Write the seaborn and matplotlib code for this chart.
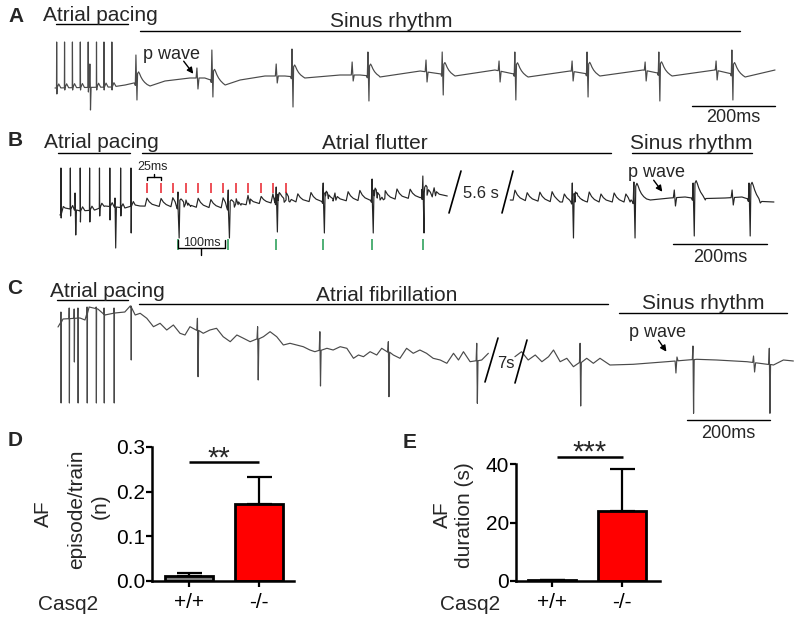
import numpy as np
import pandas as pd
import matplotlib
matplotlib.use("Agg")
import matplotlib.pyplot as plt
import seaborn as sns

sns.set_theme(style="ticks")
plt.rcParams["font.family"] = ["Liberation Sans", "DejaVu Sans"]

# ---------------- data: ECG traces (time in ms, amplitude in a.u.) ----------------
# Panel A: atrial pacing -> sinus rhythm
a_pace_t = [4, 23, 42, 61, 80, 100, 118, 137]
a_pace_top = [44, 44, 44, 44, 44, 44, 44, 44]
a_pace_bot = [-8, -4, -4, -4, -6, -4, -4, -4]
a_qrs_t = [84, 195, 378, 571, 754, 933, 1108, 1282, 1455, 1631]
a_qrs_top = [22, 31, 36, 37, 34, 34, 34, 34, 34, 36]
a_qrs_bot = [-24, -14, -11, -21, -15, -9, -14, -11, -15, -14]
a_qrs_j = [0, 12, 12, 12, 12, 12, 12, 12, 12, 12]
a_p_t = [342, 533, 716, 894, 1070, 1246, 1422, 1593]
a_p_hi = [18, 22, 24, 26, 25, 25, 24, 25]
a_p_lo = [-3, 3, 5, 4, 4, 5, 5, 6]
a_base_t = [0, 137, 169, 190, 229, 265, 325, 361, 410, 446, 506, 554, 602, 687,
            735, 783, 880, 964, 1060, 1140, 1241, 1313, 1417, 1487, 1590, 1663, 1735]
a_base_v = [-2, -1, 1, 3, 0, 5, 8, 8, 1, 6, 10, 10, 8, 11,
            11, 9, 15, 10, 16, 9, 15, 10, 16, 10, 16, 9, 16]

# Panel B: atrial pacing -> atrial flutter -> sinus rhythm
b_pace_t = [2, 22, 43, 63, 84, 106, 129, 151]
b_pace_top = [40, 40, 40, 40, 40, 40, 40, 40]
b_pace_bot = [-10, -8, -14, -14, -8, -12, -8, -25]
b_qrs_t = [32, 117, 251, 358, 460, 560, 664, 772, 1090, 1221, 1347, 1466]
b_qrs_top = [15, 10, 16, 18, 21, 25, 29, 32, 25, 26, 25, 25]
b_qrs_bot = [-27, -40, -30, -30, -24, -25, -25, -25, -30, -30, -28, -28]
b_qrs_j = [0, 0, 8, 8, 10, 10, 12, 12, 10, 18, 18, 18]
b_p_t = [1307, 1430]
b_p_hi = [18, 18]
b_p_lo = [2, 3]
b_fw_t = [185, 215, 240, 268, 294, 321, 347, 375, 400, 428, 453, 481, 506, 534,
          560, 585, 613, 638, 664, 692, 717, 745, 770, 796, 968, 994, 1021, 1047,
          1073, 1100, 1126, 1151, 1179, 1204]
b_fw_h = [8, 8, 9, 7, 9, 8, 10, 8, 9, 7, 9, 10, 8, 9,
          10, 8, 9, 10, 8, 9, 10, 9, 8, 9, 10, 8, 9, 10,
          8, 9, 10, 8, 9, 8]
b_base_t = [0, 11, 43, 74, 96, 138, 160, 170, 362, 404, 489, 681, 824, 958,
            1064, 1213, 1256, 1298, 1330, 1373, 1415, 1451, 1490, 1519]
b_base_v = [-7, 0, -3, -2, 2, 0, 3, 2, 0, 4, 6, 8, 12, 8,
            6, 6, 8, 10, 11, 8, 10, 11, 5, 6]
b_break = (830, 955)

# Panel C: atrial pacing -> atrial fibrillation -> sinus rhythm
c_pace_t = [7, 27, 39, 48, 70, 92, 111, 135, 176]
c_pace_top = [15, 19, 18, 19, 20, 20, 19, 19, 21]
c_pace_bot = [-76, -76, -35, -76, -76, -76, -76, -76, -33]
c_qrs_t = [336, 481, 631, 796, 1009, 1258, 1530, 1714]
c_qrs_top = [8.7, 0.3, -4.7, -14.7, -16.3, -16.3, -19, -21.3]
c_qrs_bot = [-49.7, -53, -59, -69.7, -76.3, -79, -86.3, -86.3]
c_qrs_j = [0, 0, 0, 0, 0, 0, 0, 0]
c_p_t = [1489, 1676]
c_p_first = [-46, -29]
c_p_second = [-30, -45]
c_wave_t = [0, 12, 53, 65, 75, 96, 113, 137, 161, 174, 186,
            198, 214, 230, 246, 262, 278, 294, 306, 318,
            350, 366, 382, 398, 415, 431, 447, 463,
            495, 511, 527, 543, 559, 575, 591, 607, 619,
            648, 663, 680, 696, 712, 724, 736, 752, 768, 780,
            808, 824, 840, 856, 872, 888, 904, 921, 937, 953, 965, 977, 993,
            1021, 1037,
            1101, 1117, 1133, 1150, 1166, 1182, 1194, 1210, 1226, 1242,
            1274, 1290, 1306,
            1330, 1386, 1467,
            1539, 1587, 1660,
            1724, 1748, 1772]
c_wave_v = [0, 8, 9, 7, 20, 18, 12, 14, 15, 21, 12,
            13.7, 8.7, 0.3, 3.7, -3, 2, -6.3, -8, 0.3,
            -6.3, -3, -1.3, -9.7, -14.7, -8, -11.3, -14.7,
            -9.7, -4.7, -9.7, -18, -16.3, -18, -19.7, -23, -24.7,
            -21.3, -23, -19.7, -21.3, -31.3, -28, -29.7, -24.7, -28, -21.3,
            -28, -31.3, -21.3, -26.3, -23, -26.3, -31.3, -33, -36.3, -26.3, -33, -24.7, -34.7,
            -33, -26.3,
            -29.7, -24.7, -33, -28, -34.7, -29.7, -23, -34.7, -31.3, -39.7,
            -31.3, -36.3, -31.3,
            -38, -37.3, -34.7,
            -32.3, -33, -34.7,
            -38, -33, -34]
c_break = (1040, 1098)

# ---------------- data: bar charts ----------------
genotypes = ["+/+", "-/-"]
d_mean = [0.012, 0.172]
d_sem = [0.006, 0.061]
e_mean = [0.2, 23.9]
e_sem = [0.1, 14.4]
bar_colors = ["#808080", "#ff0000"]

# shape of the J-wave hump after each QRS (offset in ms, fraction of J height)
J_SHAPE = [(4, 0.85), (6.5, 1.0), (9, 0.85), (12, 0.62), (16, 0.4), (21, 0.22), (27, 0.08)]


def build(bt, bv, pace=None, qrs=None, pw=None, fw=None, bump=4.0):
    bt = np.asarray(bt, float)
    bv = np.asarray(bv, float)

    def b(t):
        return float(np.interp(t, bt, bv))

    pts = list(zip(bt.tolist(), bv.tolist()))
    if pace is not None:
        for t, top, bot in zip(*pace):
            pts += [(t - 0.4, b(t)), (t, top), (t + 0.5, bot), (t + 1.0, b(t))]
            if bump:
                pts += [(t + 5, b(t + 5) + bump), (t + 10, b(t + 10))]
    if qrs is not None:
        for t, top, bot, j in zip(*qrs):
            if j > 0:
                pts += [(t - 3, b(t - 3)), (t - 1.5, b(t) - 2), (t, top), (t + 2.5, bot)]
                pts += [(t + dt, b(t + dt) + f * j) for dt, f in J_SHAPE]
            else:
                pts += [(t - 1.5, b(t)), (t, top), (t + 1.5, bot), (t + 3, b(t))]
    if pw is not None:
        for t, v1, v2 in zip(*pw):
            pts += [(t - 2, b(t - 2)), (t, v1), (t + 2.5, v2), (t + 5, b(t + 5))]
    if fw is not None:
        for t, h in zip(*fw):
            pts += [(t - 4, b(t - 4)), (t, b(t) + h), (t + 5, b(t + 5) + 0.55 * h),
                    (t + 11, b(t + 11) + 0.25 * h)]
    pts.sort(key=lambda p: p[0])
    return np.array(pts)


W, H = 800, 618
fig = plt.figure(figsize=(8, 6.18), dpi=100)


def panel_ax(x0, s, y0):
    ax = fig.add_axes([0, 0, 1, 1])
    ax.set_xlim(-x0 / s, (W - x0) / s)
    ax.set_ylim(y0 - H, y0)
    ax.axis("off")
    ax.patch.set_alpha(0)
    return ax


def draw(ax, arr, color, brk=None, lw=0.85):
    segs = [arr]
    if brk is not None:
        segs = [arr[arr[:, 0] <= brk[0]], arr[arr[:, 0] >= brk[1]]]
    for seg in segs:
        sns.lineplot(x=seg[:, 0], y=seg[:, 1], ax=ax, estimator=None, sort=False,
                     color=color, linewidth=lw)


axA = panel_ax(55, 0.415, 86)
axB = panel_ax(60, 0.47, 208)
axC = panel_ax(58, 0.415, 327)

trA = build(a_base_t, a_base_v, pace=(a_pace_t, a_pace_top, a_pace_bot),
            qrs=(a_qrs_t, a_qrs_top, a_qrs_bot, a_qrs_j), pw=(a_p_t, a_p_hi, a_p_lo))
trB = build(b_base_t, b_base_v, pace=(b_pace_t, b_pace_top, b_pace_bot),
            qrs=(b_qrs_t, b_qrs_top, b_qrs_bot, b_qrs_j), pw=(b_p_t, b_p_hi, b_p_lo),
            fw=(b_fw_t, b_fw_h))
trC = build(c_wave_t, c_wave_v, pace=(c_pace_t, c_pace_top, c_pace_bot),
            qrs=(c_qrs_t, c_qrs_top, c_qrs_bot, c_qrs_j), pw=(c_p_t, c_p_first, c_p_second),
            bump=0)
draw(axA, trA, "#4a4a4a")
draw(axB, trB, "#262626", b_break)
draw(axC, trC, "#4a4a4a", c_break)

# scale bars (200 ms) in each panel's time units
for ax, t0, ybar, ytxt in [(axA, 1535, -20, -32), (axB, 1304, -36, -49), (axC, 1516, -93, -106)]:
    ax.plot([t0, t0 + 200], [ybar, ybar], color="black", lw=1.0)
    ax.text(t0 + 100, ytxt, "200ms", ha="center", va="center", fontsize=13)

# flutter markers in B
axB.vlines(b_fw_t[:12], 15, 25, color="#e8202a", lw=1.1)
axB.vlines(b_qrs_t[2:8], -31, -42, color="#1f9a4f", lw=1.1)
q0 = b_qrs_t[2]
axB.plot([q0, q0, q0 + 100, q0 + 100], [-32, -40, -40, -32], color="black", lw=1.0)
axB.plot([q0 + 50, q0 + 50], [-40, -47], color="black", lw=1.0)
axB.text(q0 + 50, -35, "100ms", ha="center", va="center", fontsize=9)
f0, f1 = b_fw_t[0], b_fw_t[1]
axB.plot([f0, f0, f1, f1], [28, 31, 31, 28], color="black", lw=1.0)
axB.plot([(f0 + f1) / 2, (f0 + f1) / 2], [31, 34], color="black", lw=1.0)
axB.text((f0 + f1) / 2 - 3, 41, "25ms", ha="center", va="center", fontsize=9)

# ---------------- annotation overlay (pixel layout) ----------------
ov = fig.add_axes([0, 0, 1, 1])
ov.set_xlim(0, W)
ov.set_ylim(H, 0)
ov.axis("off")
ov.patch.set_alpha(0)

for lab, x, y in [("A", 16, 16), ("B", 15, 141), ("C", 15, 288), ("D", 15, 441), ("E", 410, 442)]:
    ov.text(x, y, lab, ha="center", va="center", fontsize=15, fontweight="bold")

for s, x, y, fs in [("Atrial pacing", 43, 21, 15), ("Sinus rhythm", 330, 27, 15),
                    ("p wave", 143, 59, 13),
                    ("Atrial pacing", 44, 148, 15), ("Atrial flutter", 322, 149, 15),
                    ("Sinus rhythm", 630, 149, 15), ("p wave", 628, 177, 13),
                    ("Atrial pacing", 50, 297, 15), ("Atrial fibrillation", 316, 301, 15),
                    ("Sinus rhythm", 642, 309, 15), ("p wave", 629, 337, 13)]:
    ov.text(x, y, s, ha="left", va="baseline", fontsize=fs)

for x0, x1, y in [(56, 128, 24), (140, 740, 31), (58, 130, 153), (142, 611, 153),
                  (632, 752, 153), (57, 128, 300), (139, 608, 304), (619, 787, 313)]:
    ov.plot([x0, x1], [y, y], color="black", lw=1.0)

for (x0, y0), (x1, y1) in [((182, 59), (195, 76)), ((652, 178), (664, 194)), ((657, 338), (668, 354))]:
    ov.annotate("", xy=(x1, y1), xytext=(x0, y0),
                arrowprops=dict(arrowstyle="-|>", color="black", lw=1.0, mutation_scale=9))

for (x0, y0), (x1, y1) in [((449, 213), (461, 171)), ((502, 213), (513, 171)),
                           ((485, 382), (498, 338)), ((515, 383), (527, 340))]:
    ov.plot([x0, x1], [y0, y1], color="black", lw=1.2)
ov.text(481, 194, "5.6 s", ha="center", va="center", fontsize=12)
ov.text(506, 364, "7s", ha="center", va="center", fontsize=12)

ov.text(68, 605, "Casq2", ha="center", va="center", fontsize=15)
ov.text(470, 605, "Casq2", ha="center", va="center", fontsize=15)
ov.text(43, 514, "AF", ha="center", va="center", rotation=90, fontsize=15)
ov.text(77, 509, "episode/train", ha="center", va="center", rotation=90, fontsize=15)
ov.text(100, 506, "(n)", ha="center", va="center", rotation=90, fontsize=15)
ov.text(442, 515, "AF", ha="center", va="center", rotation=90, fontsize=15)
ov.text(465, 515, "duration (s)", ha="center", va="center", rotation=90, fontsize=15)


# ---------------- bar charts ----------------
def bar_panel(rect, mean, sem, ylim, yticks, yticklabels, xlim, sig_x, sig_y, star, star_xy):
    ax = fig.add_axes(rect)
    df = pd.DataFrame({"genotype": genotypes, "value": mean})
    sns.barplot(data=df, x="genotype", y="value", hue="genotype", palette=bar_colors,
                edgecolor="black", linewidth=2, width=0.68, ax=ax, legend=False,
                saturation=1)
    ax.errorbar([0, 1], mean, yerr=[[0, 0], sem], fmt="none", ecolor="black",
                elinewidth=1.6, capsize=9, capthick=1.6, zorder=5)
    ax.set_xlim(*xlim)
    ax.set_ylim(*ylim)
    ax.set_yticks(yticks)
    ax.set_yticklabels(yticklabels)
    ax.set_xlabel("")
    ax.set_ylabel("")
    for sp in ["top", "right"]:
        ax.spines[sp].set_visible(False)
    for sp in ["left", "bottom"]:
        ax.spines[sp].set_linewidth(1.8)
        ax.spines[sp].set_color("black")
    ax.tick_params(axis="both", direction="out", length=4, width=1.6, labelsize=15,
                   color="black", labelcolor="black", left=True, bottom=True)
    ax.tick_params(axis="y", pad=1)
    ax.tick_params(axis="x", pad=5)
    ax.patch.set_alpha(0)
    ax.plot(sig_x, [sig_y, sig_y], color="black", lw=1.8, clip_on=False,
            solid_capstyle="butt")
    ax.text(star_xy[0], star_xy[1], star, ha="center", va="center", fontsize=21,
            clip_on=False)
    return ax


bar_panel([152 / W, (H - 581) / H, (294 - 152) / W, (581 - 447) / H], d_mean, d_sem,
          (0, 0.3), [0, 0.1, 0.2, 0.3], ["0.0", "0.1", "0.2", "0.3"], (-0.53, 1.5),
          [0, 1], 0.266, "**", (0.43, 0.274))
bar_panel([516 / W, (H - 581) / H, (660 - 516) / W, (581 - 464) / H], e_mean, e_sem,
          (0, 40), [0, 20, 40], ["0", "20", "40"], (-0.51, 1.54),
          [0.07, 1.01], 42.4, "***", (0.53, 43.9))

fig.savefig("out.png", dpi=100)
